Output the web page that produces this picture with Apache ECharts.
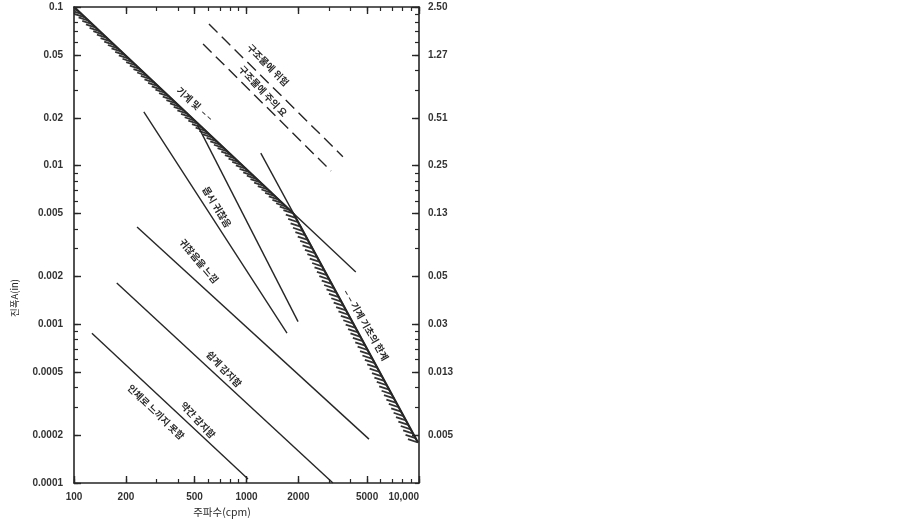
<!DOCTYPE html>
<html>
<head>
<meta charset="utf-8">
<script src="https://cdn.jsdelivr.net/npm/echarts@6/dist/echarts.min.js"></script>
<style>html,body{margin:0;padding:0;background:#fff}#c{width:900px;height:525px}</style>
</head>
<body>
<div id="c"></div>
<script>
// ---- axis ticks ----
const freqTicks = [100, 200, 500, 1000, 2000, 5000, 10000];
const freqTickText = ['100', '200', '500', '1000', '2000', '5000', '10,000'];
const freqMinor = [100, 200, 300, 400, 500, 600, 700, 800, 900, 1000, 2000, 3000, 4000, 5000, 6000, 7000, 8000, 9000, 10000];
const ampTicks = [0.1, 0.05, 0.02, 0.01, 0.005, 0.002, 0.001, 0.0005, 0.0002, 0.0001];
const ampTickText = ['0.1', '0.05', '0.02', '0.01', '0.005', '0.002', '0.001', '0.0005', '0.0002', '0.0001'];
const mmTicks = [0.1, 0.05, 0.02, 0.01, 0.005, 0.002, 0.001, 0.0005, 0.0002];
const mmTickText = ['2.50', '1.27', '0.51', '0.25', '0.13', '0.05', '0.03', '0.013', '0.005'];
const ampMinor = [0.0001, 0.0002, 0.0003, 0.0004, 0.0005, 0.0006, 0.0007, 0.0008, 0.0009,
                  0.001, 0.002, 0.003, 0.004, 0.005, 0.006, 0.007, 0.008, 0.009,
                  0.01, 0.02, 0.03, 0.04, 0.05, 0.06, 0.07, 0.08, 0.09, 0.1];

// ---- lines [frequency cpm, amplitude in] ----
const machineLimitA = [[100, 0.1], [4300, 0.00214]];
const machineLimitB = [[1210, 0.012], [9860, 0.00018]];
const hatchedEnvelope = [[100, 0.1], [1870, 0.005], [9860, 0.00018]];
const severeLine = [[254, 0.0218], [1717, 0.00088]];
const branchLine = [[520, 0.018], [1990, 0.00104]];
const troublesomeLine = [[232, 0.0041], [5130, 0.000189]];
const easilyLine = [[177, 0.00182], [3170, 0.0001]];
const barelyLine = [[127, 0.00088], [1020, 0.000106]];
const dangerLine = [[606, 0.078], [3620, 0.0114]];
const cautionLine = [[560, 0.0585], [3090, 0.00925]];

// ---- texts ----
const labelTexts = {
  danger: '구조물에 위험',
  caution: '구조물에 주의 요',
  machine1: '기계 및  – –',
  machine2: '– – 기계 기초의 한계',
  severe: '몹시 귀찮음',
  troublesome: '귀찮음을 느낌',
  easily: '쉽게 감지함',
  barely: '약간 감지함',
  notFelt: '인체로 느끼지 못함'
};
const xName = '주파수(cpm)';
const yName = '진폭A(in)';

function pick(vals, texts, v) {
  for (let i = 0; i < vals.length; i++) {
    if (Math.abs(Math.log10(vals[i]) - Math.log10(v)) < 1e-4) return texts[i];
  }
  return '';
}

const INK = '#262626';
const tickFont = { fontFamily: 'Liberation Sans Narrow, Liberation Sans, sans-serif', fontSize: 10, fontWeight: 'bold', color: '#333' };
const kr = 'bold 9.5px "Noto Sans CJK KR"';

function logAxisBase(extra) {
  return Object.assign({
    type: 'log', logBase: 10,
    splitLine: { show: false }, minorTick: { show: false }, minorSplitLine: { show: false }
  }, extra);
}

const xMin = 100, xMax = 10000, yMin = 0.0001, yMax = 0.1;

const chart = echarts.init(document.getElementById('c'), null, { renderer: 'canvas' });

function solid(name, data) {
  return { name, type: 'line', data, xAxisIndex: 0, yAxisIndex: 0, showSymbol: false, symbol: 'none',
    lineStyle: { color: INK, width: 1.4 }, silent: true, animation: false };
}
function dashed(name, data) {
  return { name, type: 'line', data, xAxisIndex: 0, yAxisIndex: 0, showSymbol: false, symbol: 'none',
    lineStyle: { color: INK, width: 1.4, type: [12, 6] }, silent: true, animation: false };
}

function txt(text, x, y, deg, font) {
  return { type: 'text', x, y, rotation: -deg * Math.PI / 180, silent: true,
    style: { text, font: font || kr, fill: '#2a2a2a', align: 'center', verticalAlign: 'middle' } };
}

const option = {
  backgroundColor: '#fff',
  animation: false,
  grid: { left: 74, right: 481, top: 7, bottom: 42, outerBoundsMode: 'none', containLabel: false },
  xAxis: [
    logAxisBase({ min: xMin, max: xMax, position: 'bottom',
      axisLine: { show: true, lineStyle: { color: INK, width: 1.6 } },
      axisTick: { show: true, inside: true, length: 7, customValues: freqTicks, lineStyle: { color: INK, width: 1.4 } },
      axisLabel: Object.assign({ show: true, margin: 9, customValues: freqTicks, alignMaxLabel: 'right',
        formatter: v => pick(freqTicks, freqTickText, v) }, tickFont) }),
    logAxisBase({ min: xMin, max: xMax, position: 'bottom',
      axisLine: { show: false },
      axisTick: { show: true, inside: true, length: 4, customValues: freqMinor, lineStyle: { color: INK, width: 1.2 } },
      axisLabel: { show: false } }),
    logAxisBase({ min: xMin, max: xMax, position: 'top',
      axisLine: { show: true, lineStyle: { color: INK, width: 1.6 } },
      axisTick: { show: true, inside: true, length: 7, customValues: freqTicks, lineStyle: { color: INK, width: 1.4 } },
      axisLabel: { show: false } }),
    logAxisBase({ min: xMin, max: xMax, position: 'top',
      axisLine: { show: false },
      axisTick: { show: true, inside: true, length: 4, customValues: freqMinor, lineStyle: { color: INK, width: 1.2 } },
      axisLabel: { show: false } })
  ],
  yAxis: [
    logAxisBase({ min: yMin, max: yMax, position: 'left',
      axisLine: { show: true, lineStyle: { color: INK, width: 1.6 } },
      axisTick: { show: true, inside: true, length: 7, customValues: ampTicks, lineStyle: { color: INK, width: 1.4 } },
      axisLabel: Object.assign({ show: true, margin: 11, customValues: ampTicks,
        formatter: v => pick(ampTicks, ampTickText, v) }, tickFont) }),
    logAxisBase({ min: yMin, max: yMax, position: 'left',
      axisLine: { show: false },
      axisTick: { show: true, inside: true, length: 4, customValues: ampMinor, lineStyle: { color: INK, width: 1.2 } },
      axisLabel: { show: false } }),
    logAxisBase({ min: yMin, max: yMax, position: 'right',
      axisLine: { show: true, lineStyle: { color: INK, width: 1.6 } },
      axisTick: { show: true, inside: true, length: 7, customValues: mmTicks, lineStyle: { color: INK, width: 1.4 } },
      axisLabel: Object.assign({ show: true, margin: 9, customValues: mmTicks,
        formatter: v => pick(mmTicks, mmTickText, v) }, tickFont) }),
    logAxisBase({ min: yMin, max: yMax, position: 'right',
      axisLine: { show: false },
      axisTick: { show: true, inside: true, length: 4, customValues: ampMinor, lineStyle: { color: INK, width: 1.2 } },
      axisLabel: { show: false } })
  ],
  series: [
    solid('machineLimitA', machineLimitA),
    solid('machineLimitB', machineLimitB),
    solid('severe', severeLine),
    solid('branch', branchLine),
    solid('troublesome', troublesomeLine),
    solid('easily', easilyLine),
    solid('barely', barelyLine),
    dashed('danger', dangerLine),
    dashed('caution', cautionLine),
    {
      name: 'hatch', type: 'custom', xAxisIndex: 0, yAxisIndex: 0, data: hatchedEnvelope,
      encode: { x: 0, y: 1 }, clip: true, silent: true, animation: false,
      renderItem: function (params, api) {
        const i = params.dataIndex;
        if (i >= hatchedEnvelope.length - 1) return { type: 'group', children: [] };
        const p0 = api.coord(hatchedEnvelope[i]);
        const p1 = api.coord(hatchedEnvelope[i + 1]);
        const dx = p1[0] - p0[0], dy = p1[1] - p0[1];
        const len = Math.hypot(dx, dy);
        const n = Math.floor(len / 5);
        const children = [{ type: 'line', shape: { x1: p0[0], y1: p0[1], x2: p1[0], y2: p1[1] },
          style: { stroke: INK, lineWidth: 2.2 } }];
        for (let k = 1; k <= n; k++) {
          const t = k / n;
          const px = p0[0] + dx * t, py = p0[1] + dy * t;
          children.push({ type: 'line', shape: { x1: px, y1: py, x2: px - 10, y2: py - 3.3 },
            style: { stroke: '#333', lineWidth: 1.8 } });
        }
        return { type: 'group', children };
      }
    }
  ],
  graphic: [
    txt(labelTexts.danger, 268, 65, 45),
    txt(labelTexts.caution, 263, 91, 47),
    txt(labelTexts.machine1, 195, 104, 42),
    txt(labelTexts.machine2, 366, 325, 60),
    txt(labelTexts.severe, 217, 207, 59),
    txt(labelTexts.troublesome, 199, 261, 50),
    txt(labelTexts.easily, 224, 369, 46),
    txt(labelTexts.barely, 198, 420, 47),
    txt(labelTexts.notFelt, 156, 412, 44),
    txt(yName, 14, 298, -90, '9.5px "Noto Sans CJK KR"'),
    txt(xName, 222, 512, 0, '10.5px "Noto Sans CJK KR"')
  ]
};
chart.setOption(option);
</script>
</body>
</html>
